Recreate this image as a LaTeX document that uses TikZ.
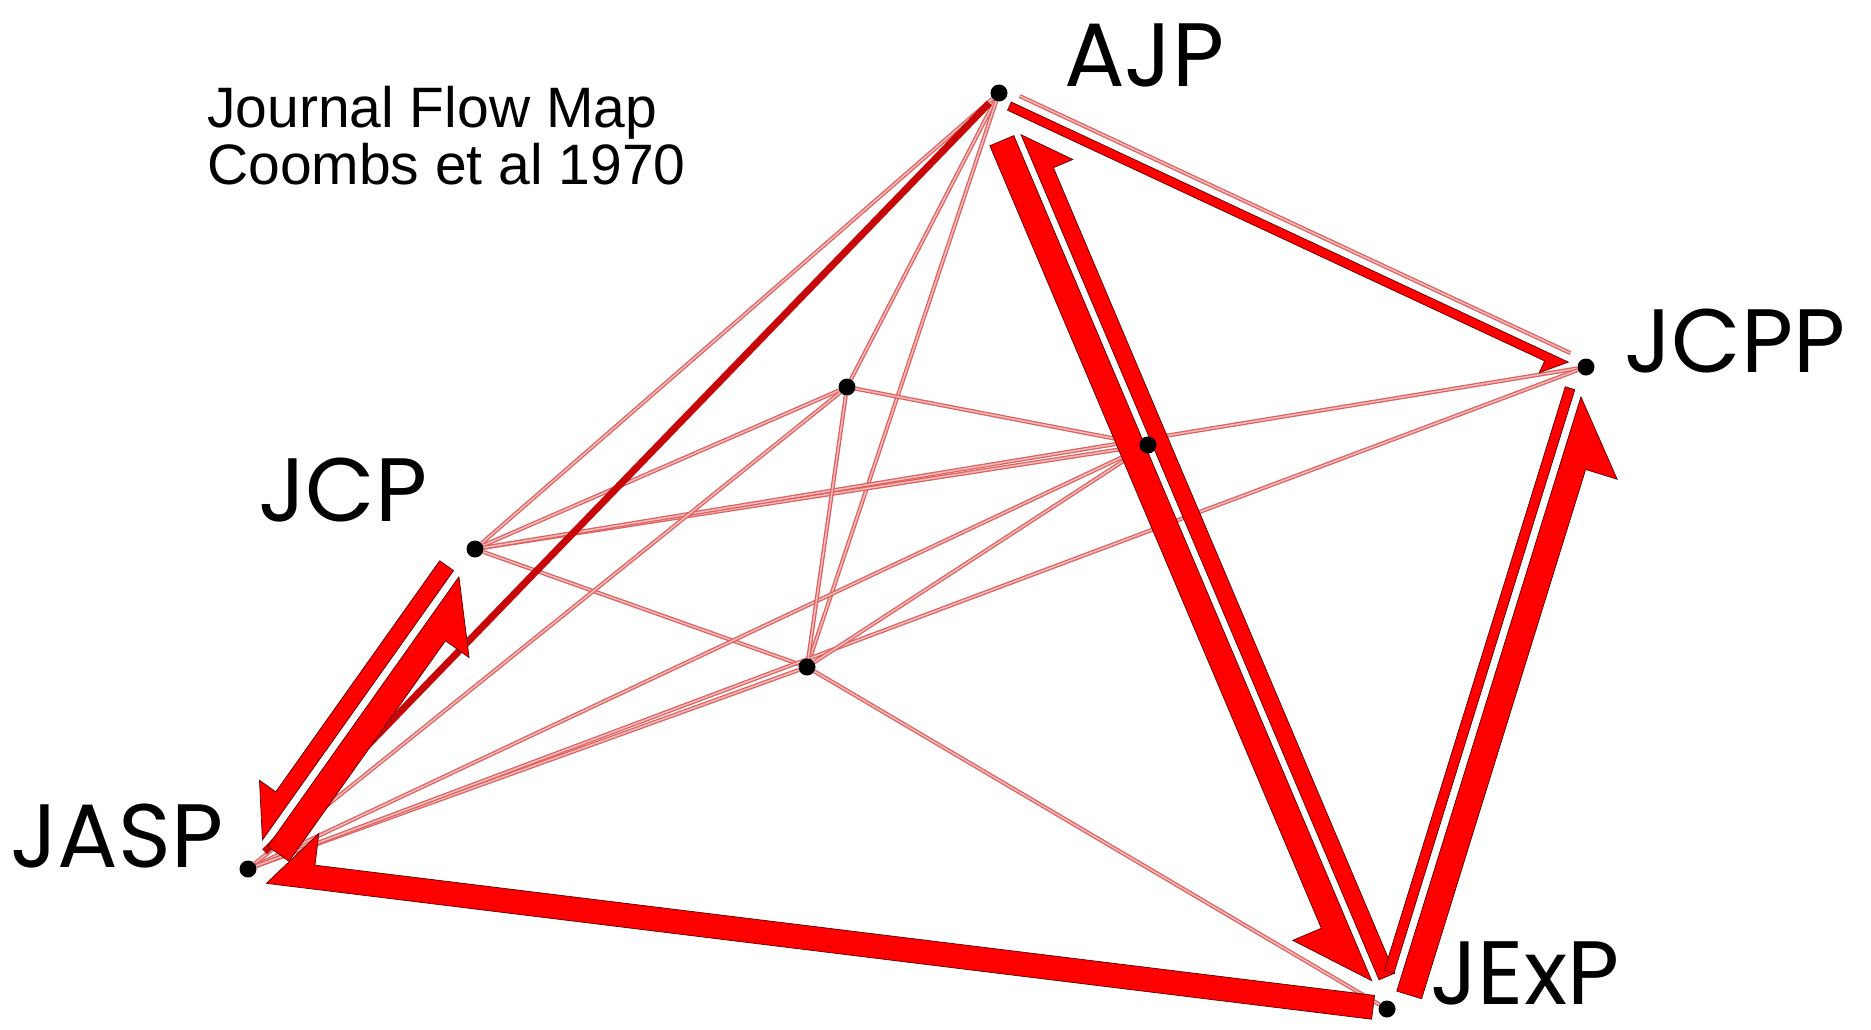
\documentclass[tikz,border=0pt]{standalone}
\usepackage{fontspec}
\setmainfont{Liberation Sans}
\newfontfamily\labelfont{Poppins}
\usetikzlibrary{backgrounds,calc}
\definecolor{flowfill}{HTML}{FF0000}
\definecolor{flowdraw}{HTML}{5A0000}
\definecolor{linkdraw}{HTML}{E06060}
\definecolor{linkcore}{HTML}{F6BDBD}
\definecolor{stemdraw}{HTML}{C80808}

% Half-headed flow band: from, to, tip edge, far edge, barb,
% tail trim, tip trim, barb trim (offsets to the right of travel).
\newcommand{\flowband}[8]{%
  \filldraw[flowshape]
    ($(#1)!#6!(#2)!#3!-90:(#2)$) --
    ($(#2)!#7!(#1)!#3!90:(#1)$) --
    ($(#2)!#8!(#1)!#5!90:(#1)$) --
    ($(#2)!#8!(#1)!#4!90:(#1)$) --
    ($(#1)!#6!(#2)!#4!-90:(#2)$) -- cycle;}

\begin{document}
\begin{tikzpicture}[
  x=1pt, y=-1pt,
  journal/.style={circle, fill=black, inner sep=0pt, minimum size=17pt},
  journalname/.style={
    font=\labelfont\fontsize{90}{92}\selectfont,
    inner sep=0pt, anchor=base west
  },
  titletext/.style={
    font=\fontsize{57}{59}\selectfont,
    inner sep=0pt, anchor=base west
  },
  link/.style={
    draw=linkdraw, double=linkcore,
    double distance=1.5pt, line width=1.3pt
  },
  stem/.style={draw=stemdraw, line width=7pt},
  flowshape/.style={
    fill=flowfill, draw=flowdraw,
    line width=0.7pt, line join=miter
  }
]

\useasboundingbox (0,0) rectangle (1871,1029);

% Journals, and the three unnamed ones in the middle.
\node[journal] (ajp) at (999,93) {};
\node[journal] (jcpp) at (1586,367) {};
\node[journal] (jcp) at (475,549) {};
\node[journal] (jasp) at (248,869) {};
\node[journal] (jexp) at (1387,1009) {};
\node[journal] (hubN) at (847,387) {};
\node[journal] (hubS) at (807,667) {};
\node[journal] (hubE) at (1148,445) {};

% Journal names.
\node[journalname] (ajpName) at (1064,86) {AJP};
\node[journalname] (jcppName) at (1624,372) {JCPP};
\node[journalname] (jcpName) at (258,521) {JCP};
\node[journalname] (jaspName) at (10,867) {JASP};
\node[journalname] (jexpName) at (1430,1004) {JExP};

% Title.
\node[titletext] (titleTop) at (207,127) {Journal Flow Map};
\node[titletext] (titleBottom) at (207,184) {Coombs et al 1970};

\begin{scope}[on background layer]
  \fill[white] (0,0) rectangle (1871,1029);

  % Small flows.
  \draw[link] (ajp) -- (jcp);
  \draw[link] (ajp) -- (hubN);
  \draw[link] (ajp) -- (hubS);
  \draw[link] (jcp) -- (hubN);
  \draw[link] (jcp) -- (hubE);
  \draw[link] (jcp) -- (jcpp);
  \draw[link] (jcp) -- (hubS);
  \draw[link] (jasp) -- (hubN);
  \draw[link] (jasp) -- (hubE);
  \draw[link] (jasp) -- (hubS);
  \draw[link] (jasp) -- (jcpp);
  \draw[link] (hubN) -- (hubS);
  \draw[link] (hubN) -- (hubE);
  \draw[link] (hubS) -- (hubE);
  \draw[link] (hubS) -- (jexp);
  \draw[link] ($(jcpp)!20pt!(ajp)!6pt!-90:(ajp)$)
    -- ($(ajp)!20pt!(jcpp)!6pt!90:(jcpp)$);

  % Medium flow.
  \draw[stem] ($(ajp)!14pt!(jasp)$) -- ($(jasp)!24pt!(ajp)$);

  % Large flows.
  \flowband{ajp}{jcpp}{3pt}{12pt}{25pt}{15pt}{18pt}{40pt}
  \flowband{ajp}{jexp}{3pt}{29pt}{60pt}{45pt}{32pt}{100pt}
  \flowband{jexp}{ajp}{4pt}{21pt}{42pt}{30pt}{47pt}{90pt}
  \flowband{jcpp}{jexp}{4pt}{14pt}{14pt}{25pt}{36pt}{36pt}
  \flowband{jexp}{jcpp}{4pt}{30pt}{63pt}{20pt}{30pt}{98pt}
  \flowband{jcp}{jasp}{5pt}{22pt}{42pt}{30pt}{32pt}{79pt}
  \flowband{jasp}{jcp}{3pt}{29pt}{58pt}{30pt}{32pt}{92pt}
  \flowband{jexp}{jasp}{-12pt}{12pt}{44pt}{14pt}{20pt}{66pt}
\end{scope}

\end{tikzpicture}
\end{document}
